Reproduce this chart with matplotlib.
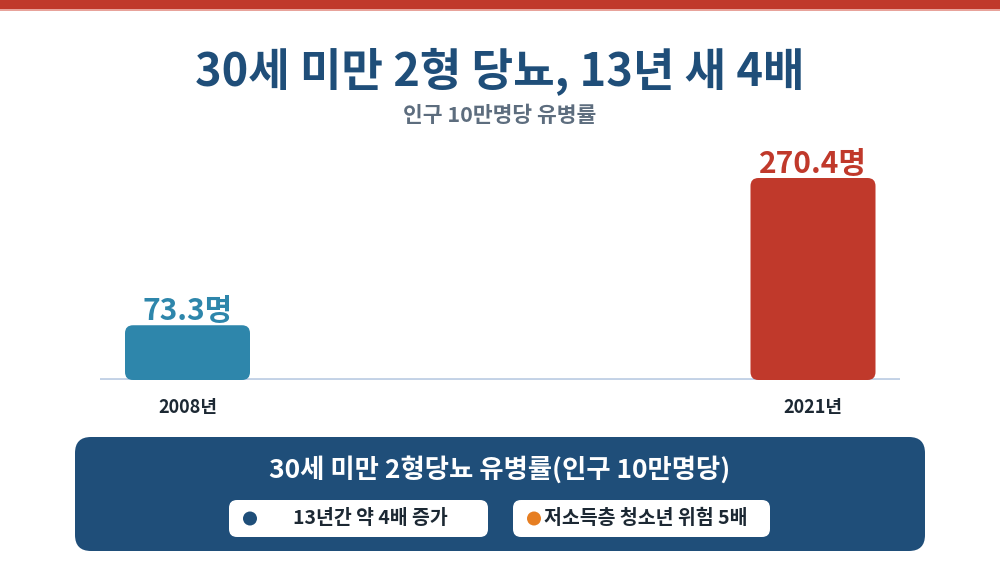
import matplotlib
matplotlib.use("Agg")
import matplotlib.pyplot as plt
from matplotlib.patches import FancyBboxPatch, Rectangle, Circle

plt.rcParams['font.family'] = ['Noto Sans CJK KR', 'DejaVu Sans']

# ---- data ----
years = ["2008년", "2021년"]
values = [73.3, 270.4]
value_labels = ["73.3명", "270.4명"]
bar_colors = ["#2E86AB", "#C0392B"]
title = "30세 미만 2형 당뇨, 13년 새 4배"
subtitle = "인구 10만명당 유병률"
panel_title = "30세 미만 2형당뇨 유병률(인구 10만명당)"
pill_texts = ["13년간 약 4배 증가", "저소득층 청소년 위험 5배"]
pill_dot_colors = ["#1F4E79", "#E67E22"]

W, H = 1000, 583
fig = plt.figure(figsize=(W / 100, H / 100), dpi=100)
fig.patch.set_facecolor("white")

# background overlay axes in pixel coords (y from top)
bg = fig.add_axes([0, 0, 1, 1])
bg.set_xlim(0, W)
bg.set_ylim(H, 0)
bg.axis("off")

# top red band
bg.add_patch(Rectangle((0, 0), W, 9, color="#C0392B", lw=0))
bg.add_patch(Rectangle((0, 9), W, 1.5, color="#E8A39B", lw=0))

bg.text(500, 71, title, ha="center", va="center", fontsize=32.5,
        fontweight="bold", color="#1F4E79")
bg.text(500, 115, subtitle, ha="center", va="center", fontsize=15.5,
        fontweight="bold", color="#5D6D7E")

# ---- bar chart axes ----
px_unit_x = 625.5
ax_left, ax_right = 100, 900
ax_bottom_px, ax_top_px = 380, 140
ax = fig.add_axes([ax_left / W, (H - ax_bottom_px) / H,
                   (ax_right - ax_left) / W, (ax_bottom_px - ax_top_px) / H])
x0 = (187.5 - ax_left) / px_unit_x
ax.set_xlim(-x0, (ax_right - ax_left) / px_unit_x - x0)
px_per_val = 202 / 270.4
ax.set_ylim(0, (ax_bottom_px - ax_top_px) / px_per_val)
ax.axis("off")
ax.patch.set_alpha(0)

xs = list(range(len(values)))
bw = 125 / px_unit_x
bars = ax.bar(xs, values, width=bw, color=bar_colors)
r_px = 8
rx = r_px / px_unit_x
ry = r_px / px_per_val
for b, c in zip(bars, bar_colors):
    x, y = b.get_x(), b.get_y()
    w, h = b.get_width(), b.get_height()
    b.set_visible(False)
    ax.add_patch(FancyBboxPatch((x, y), w, h,
                                boxstyle=f"round,pad=0,rounding_size={rx}",
                                mutation_aspect=ry / rx, fc=c, ec="none"))

ax.axhline(0, xmin=0, xmax=1, color="#C3D2E6", lw=2.8, zorder=0)

for xi, v, lab, c in zip(xs, values, value_labels, bar_colors):
    ax.text(xi, v - 1 / px_per_val, lab, ha="center", va="bottom",
            fontsize=21.5, fontweight="bold", color=c)
    ax.text(xi, -28 / px_per_val, years[xi], ha="center", va="center",
            fontsize=13, fontweight="bold", color="#1C2833", clip_on=False)

# ---- bottom panel ----
bg.add_patch(FancyBboxPatch((75, 437), 850, 114,
                            boxstyle="round,pad=0,rounding_size=16",
                            fc="#1F4E79", ec="none"))
bg.text(500, 470, panel_title, ha="center", va="center", fontsize=19,
        fontweight="bold", color="white")

pills = [(229, 500, 259, 37), (513, 500, 257, 37)]
for (px, py, pw, ph), txt, dc, i in zip(pills, pill_texts, pill_dot_colors, range(2)):
    bg.add_patch(FancyBboxPatch((px, py), pw, ph,
                                boxstyle="round,pad=0,rounding_size=8",
                                fc="white", ec="none"))
    dot_x = px + 21
    bg.add_patch(Circle((dot_x, py + ph / 2), 7, fc=dc, ec="none"))
    if i == 0:
        bg.text(370, py + ph / 2, txt, ha="center", va="center", fontsize=14,
                fontweight="bold", color="#1C2833")
    else:
        bg.text(544, py + ph / 2, txt, ha="left", va="center", fontsize=14,
                fontweight="bold", color="#1C2833")

fig.savefig("out.png", dpi=100, facecolor="white")
